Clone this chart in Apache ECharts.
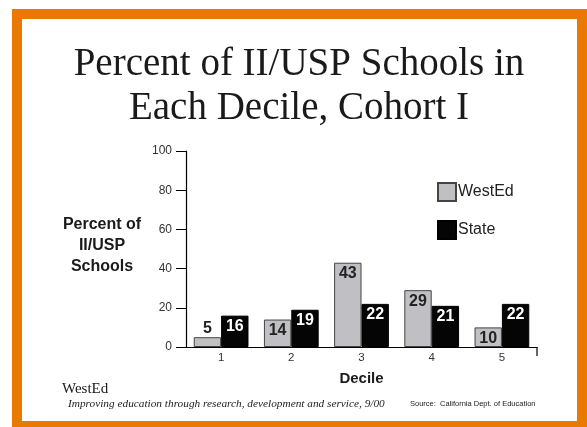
<!DOCTYPE html>
<html><head><meta charset="utf-8">
<script src="https://cdn.jsdelivr.net/npm/echarts@6/dist/echarts.min.js"></script>
<style>html,body{margin:0;padding:0;background:#fff}#c{width:587px;height:427px}</style>
</head><body><div id="c"></div>
<script>
var categories = ['1','2','3','4','5'];
var westEd = [5, 14, 43, 29, 10];
var state = [16, 19, 22, 21, 22];
var yTicks = [0, 20, 40, 60, 80, 100];

var G = {left:186, right:50, top:151, bottom:80};
var W = 587, H = 427;
var chart = echarts.init(document.getElementById('c'), null, {renderer:'canvas'});
function lbl(color){
  return {show:true, position:'insideTop', distance:3, color:color, fontFamily:'Liberation Sans, Arial', fontWeight:'bold', fontSize:16};
}
var westData = westEd.map(function(v){
  var d = {value:v};
  if (v < 8) d.label = {position:'top', distance:1, color:'#222'};
  return d;
});
chart.setOption({
  animation:false,
  backgroundColor:'#fff',
  title:[
    {text:'Percent of II/USP Schools in\nEach Decile, Cohort I', left:299, top:43, padding:0, textAlign:'center',
     textStyle:{fontFamily:'Liberation Serif, Times New Roman', fontWeight:'normal', fontSize:39, lineHeight:44, color:'#1a1a1a'}},
    {text:'Percent of\nII/USP\nSchools', left:102, top:214, padding:0, textAlign:'center',
     textStyle:{fontFamily:'Liberation Sans, Arial', fontWeight:'bold', fontSize:16, lineHeight:21, color:'#1a1a1a'}},
    {text:'WestEd', left:62, top:382, padding:0,
     textStyle:{fontFamily:'Liberation Serif, Times New Roman', fontWeight:'normal', fontSize:15, color:'#1a1a1a'}},
    {text:'Improving education through research, development and service, 9/00', left:68, top:399, padding:0,
     textStyle:{fontFamily:'Liberation Serif, Times New Roman', fontStyle:'italic', fontWeight:'normal', fontSize:11.3, color:'#222'}},
    {text:'Source:  California Dept. of Education', left:410, top:400, padding:0,
     textStyle:{fontFamily:'Liberation Sans, Arial', fontWeight:'normal', fontSize:7.5, color:'#222'}}
  ],
  legend:{
    orient:'vertical', left:437, top:182, padding:0, itemWidth:18, itemHeight:18, itemGap:18,
    icon:'rect', textStyle:{fontFamily:'Liberation Sans, Arial', fontSize:16, color:'#222', padding:[0,0,0,-3]},
    data:['WestEd','State']
  },
  grid:G,
  xAxis:{
    type:'category', data:categories, name:'Decile', nameLocation:'middle', nameGap:24,
    nameTextStyle:{fontFamily:'Liberation Sans, Arial', fontWeight:'bold', fontSize:15, color:'#1a1a1a'},
    axisLine:{lineStyle:{color:'#000', width:1.2}},
    axisTick:{show:false},
    axisLabel:{fontFamily:'Liberation Sans, Arial', fontSize:11.5, color:'#333', margin:5}
  },
  yAxis:{
    type:'value', min:0, max:100, interval:20,
    axisLine:{show:true, lineStyle:{color:'#000', width:1.2}},
    axisTick:{show:true, length:10, lineStyle:{color:'#000'}},
    splitLine:{show:false},
    axisLabel:{fontFamily:'Liberation Sans, Arial', fontSize:12, color:'#333', margin:14,
      formatter:function(v){return yTicks.indexOf(v)>=0 ? String(v) : '';}}
  },
  series:[
    {name:'WestEd', type:'bar', data:westData, barGap:'0%', barCategoryGap:'22%',
     itemStyle:{color:'#c0c0c4', borderColor:'#444', borderWidth:1}, label:lbl('#222')},
    {name:'State', type:'bar', data:state,
     itemStyle:{color:'#050505', borderColor:'#000', borderWidth:1}, label:lbl('#fff')}
  ],
  graphic:[
    {type:'line', shape:{x1:W-G.right, y1:H-G.bottom, x2:W-G.right, y2:H-G.bottom+9}, style:{stroke:'#000', lineWidth:1.2}, silent:true},
    {type:'rect', shape:{x:12, y:9, width:575, height:10}, style:{fill:'#e87a00'}, silent:true},
    {type:'rect', shape:{x:12, y:9, width:10, height:418}, style:{fill:'#e87a00'}, silent:true},
    {type:'rect', shape:{x:577, y:9, width:10, height:418}, style:{fill:'#e87a00'}, silent:true},
    {type:'rect', shape:{x:12, y:421, width:575, height:6}, style:{fill:'#e87a00'}, silent:true}
  ]
});
</script></body></html>
